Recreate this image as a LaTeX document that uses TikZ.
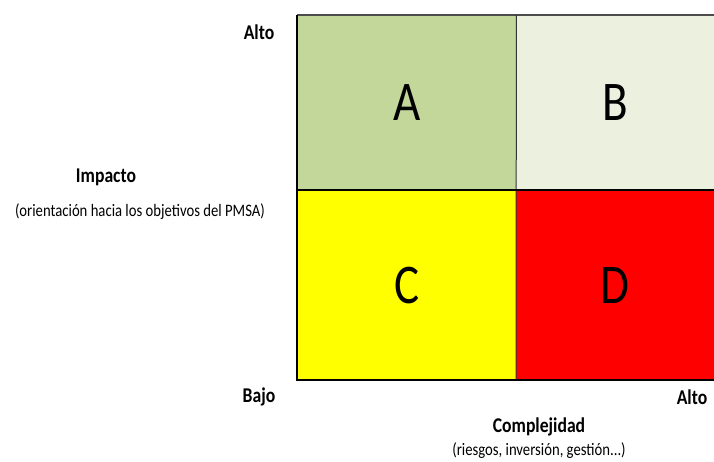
\documentclass[tikz,border=0pt]{standalone}
\usepackage{fontspec}
\setmainfont[FakeStretch=0.84]{Carlito}
\usepackage{xcolor}
\usetikzlibrary{positioning}
\definecolor{verdeA}{HTML}{C4D79B}
\definecolor{verdeB}{HTML}{EBF1DE}
\definecolor{amarilloC}{HTML}{FFFF00}
\definecolor{rojoD}{HTML}{FF0000}

\begin{document}
\begin{tikzpicture}[x=1pt, y=-1pt,
  cuadro/.style={anchor=north west, inner sep=0pt, draw=none, font=\fontsize{56}{60}\selectfont},
  etiqueta/.style={inner sep=0pt, font=\fontsize{21}{24}\selectfont\bfseries},
  nota/.style={inner sep=0pt, font=\fontsize{17.5}{20}\selectfont}]
\useasboundingbox (0,0) rectangle (714,461);

\node[cuadro, fill=verdeA, minimum width=219pt, minimum height=175pt] (A) at (297,15) {A};
\node[cuadro, fill=verdeB, minimum width=198pt, minimum height=175pt] (B) at (516,15) {B};
\node[cuadro, fill=amarilloC, minimum width=219pt, minimum height=190pt] (C) at (297,190) {C};
\node[cuadro, fill=rojoD, minimum width=198pt, minimum height=190pt] (D) at (516,190) {D};

\draw[black!70, line width=1.2pt] (A.north west) -- (B.north east);
\draw[black!80, line width=1pt] (A.north east) -- (D.south west);
\draw[line width=2pt] (C.north west) -- (D.north east);
\draw[line width=2pt] (A.north west) -- (C.south west) -- (D.south east);

\node[etiqueta] (altoY) at (259,32) {Alto};
\node[etiqueta] (bajo) at (259,397) {Bajo};
\node[etiqueta] (altoX) at (692,397) {Alto};
\node[etiqueta] (impacto) at (106,177) {Impacto};
\node[nota] (orient) at (140,212) {(orientación hacia los objetivos del PMSA)};
\node[etiqueta] (complej) at (539,427) {Complejidad};
\node[nota] (riesgos) at (539,451) {(riesgos, inversión, gestión...)};

\end{tikzpicture}
\end{document}
